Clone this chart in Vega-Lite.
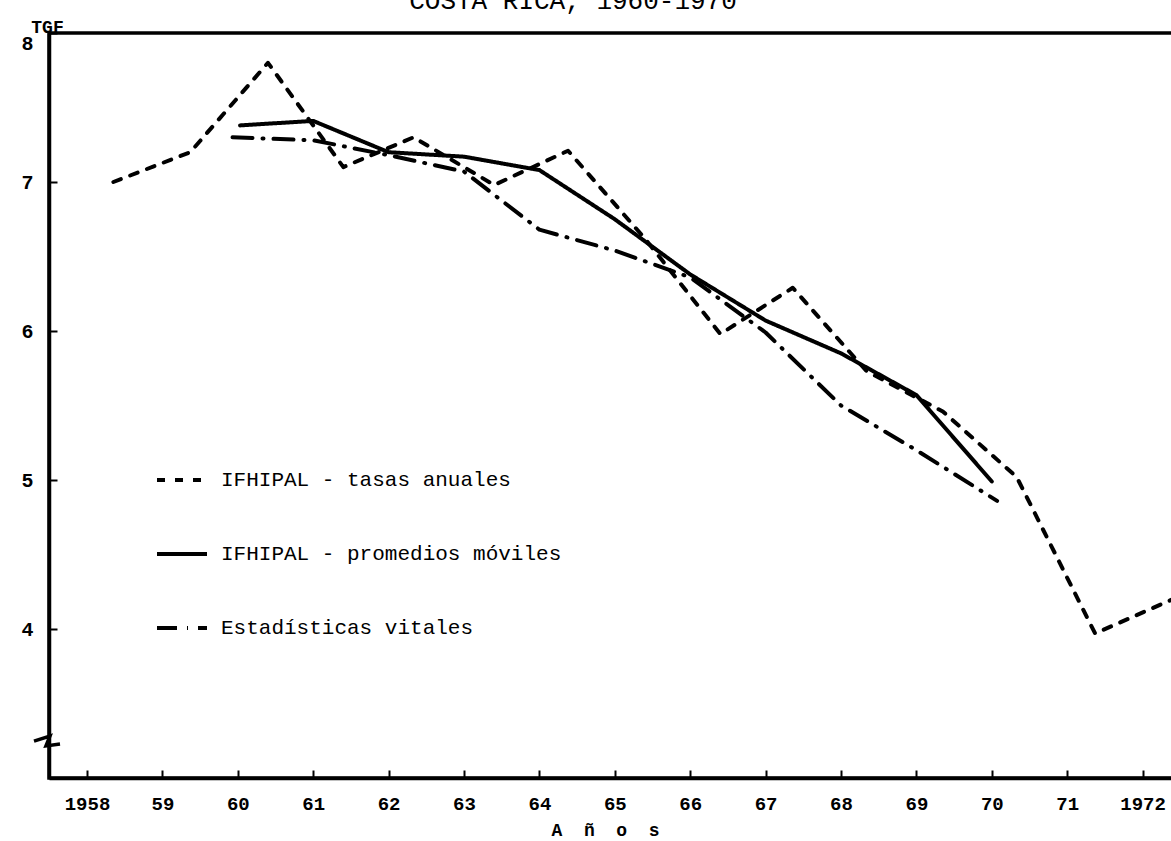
{
  "$schema": "https://vega.github.io/schema/vega-lite/v6.json",
  "autosize": {"type": "none"},
  "padding": {"left": 49, "top": 33, "right": 0, "bottom": 63},
  "width": 1124,
  "height": 745,
  "background": "white",
  "title": {
    "text": "COSTA RICA, 1960-1970",
    "font": "Liberation Mono",
    "fontSize": 26,
    "fontWeight": "normal",
    "color": "black",
    "anchor": "middle",
    "frame": "group",
    "baseline": "alphabetic",
    "dx": -38,
    "offset": -17
  },
  "config": {
    "view": {"stroke": "black", "strokeWidth": 3.5},
    "font": "Liberation Mono"
  },
  "datasets": {
    "series": [
      {"serie": "IFHIPAL - tasas anuales", "anio": 1958.35, "tgf": 7.0},
      {"serie": "IFHIPAL - tasas anuales", "anio": 1959.37, "tgf": 7.2},
      {"serie": "IFHIPAL - tasas anuales", "anio": 1960.4, "tgf": 7.8},
      {"serie": "IFHIPAL - tasas anuales", "anio": 1961.4, "tgf": 7.1},
      {"serie": "IFHIPAL - tasas anuales", "anio": 1962.33, "tgf": 7.3},
      {"serie": "IFHIPAL - tasas anuales", "anio": 1963.4, "tgf": 6.98},
      {"serie": "IFHIPAL - tasas anuales", "anio": 1964.38, "tgf": 7.21},
      {"serie": "IFHIPAL - tasas anuales", "anio": 1965.4, "tgf": 6.62},
      {"serie": "IFHIPAL - tasas anuales", "anio": 1966.4, "tgf": 5.98},
      {"serie": "IFHIPAL - tasas anuales", "anio": 1967.36, "tgf": 6.29},
      {"serie": "IFHIPAL - tasas anuales", "anio": 1968.34, "tgf": 5.73},
      {"serie": "IFHIPAL - tasas anuales", "anio": 1969.35, "tgf": 5.46},
      {"serie": "IFHIPAL - tasas anuales", "anio": 1970.33, "tgf": 5.02},
      {"serie": "IFHIPAL - tasas anuales", "anio": 1971.37, "tgf": 3.97},
      {"serie": "IFHIPAL - tasas anuales", "anio": 1972.4, "tgf": 4.2},
      {"serie": "IFHIPAL - promedios móviles", "anio": 1960.03, "tgf": 7.38},
      {"serie": "IFHIPAL - promedios móviles", "anio": 1961.0, "tgf": 7.41},
      {"serie": "IFHIPAL - promedios móviles", "anio": 1962.0, "tgf": 7.2},
      {"serie": "IFHIPAL - promedios móviles", "anio": 1963.0, "tgf": 7.17},
      {"serie": "IFHIPAL - promedios móviles", "anio": 1964.0, "tgf": 7.08},
      {"serie": "IFHIPAL - promedios móviles", "anio": 1965.0, "tgf": 6.75},
      {"serie": "IFHIPAL - promedios móviles", "anio": 1966.0, "tgf": 6.38},
      {"serie": "IFHIPAL - promedios móviles", "anio": 1967.0, "tgf": 6.07},
      {"serie": "IFHIPAL - promedios móviles", "anio": 1968.0, "tgf": 5.85},
      {"serie": "IFHIPAL - promedios móviles", "anio": 1969.0, "tgf": 5.57},
      {"serie": "IFHIPAL - promedios móviles", "anio": 1970.0, "tgf": 4.99},
      {"serie": "Estadísticas vitales", "anio": 1959.93, "tgf": 7.3},
      {"serie": "Estadísticas vitales", "anio": 1961.0, "tgf": 7.28},
      {"serie": "Estadísticas vitales", "anio": 1962.0, "tgf": 7.18},
      {"serie": "Estadísticas vitales", "anio": 1963.0, "tgf": 7.07},
      {"serie": "Estadísticas vitales", "anio": 1964.0, "tgf": 6.68},
      {"serie": "Estadísticas vitales", "anio": 1965.0, "tgf": 6.54},
      {"serie": "Estadísticas vitales", "anio": 1966.0, "tgf": 6.36},
      {"serie": "Estadísticas vitales", "anio": 1967.0, "tgf": 5.99},
      {"serie": "Estadísticas vitales", "anio": 1968.0, "tgf": 5.5},
      {"serie": "Estadísticas vitales", "anio": 1969.0, "tgf": 5.2},
      {"serie": "Estadísticas vitales", "anio": 1970.07, "tgf": 4.86}
    ],
    "corte": [
      {"orden": 1, "anio": 1957.297, "tgf": 3.248},
      {"orden": 2, "anio": 1957.509, "tgf": 3.282},
      {"orden": 3, "anio": 1957.456, "tgf": 3.215},
      {"orden": 4, "anio": 1957.642, "tgf": 3.228}
    ]
  },
  "layer": [
    {
      "data": {"name": "series"},
      "mark": {"type": "line", "color": "black", "strokeWidth": 4, "strokeCap": "round", "strokeJoin": "round", "clip": true},
      "encoding": {
        "x": {
          "field": "anio", "type": "quantitative",
          "scale": {"domain": [1957.496, 1972.403], "nice": false, "zero": false},
          "axis": {
            "values": [1958, 1959, 1960, 1961, 1962, 1963, 1964, 1965, 1966, 1967, 1968, 1969, 1970, 1971, 1972],
            "labelExpr": "(datum.value == 1958 || datum.value == 1972) ? '' + datum.value : substring('' + datum.value, 2, 4)",
            "title": "A\u00a0 ñ\u00a0 o\u00a0 s",
            "titleFont": "Liberation Mono",
            "titleFontSize": 18,
            "titleFontWeight": "bold",
            "titleColor": "black",
            "titlePadding": 8,
            "titleX": 556,
            "domainColor": "black",
            "domainWidth": 3.5,
            "tickColor": "black",
            "tickWidth": 2,
            "tickSize": -8,
            "labelFont": "Liberation Mono",
            "labelFontSize": 19,
            "labelFontWeight": "bold",
            "labelColor": "black",
            "labelPadding": 24,
            "grid": false
          }
        },
        "y": {
          "field": "tgf", "type": "quantitative",
          "scale": {"domain": [3, 8], "nice": false, "zero": false},
          "axis": {
            "values": [4, 5, 6, 7, 8],
            "format": "d",
            "title": "TGF",
            "titleAngle": 0,
            "titleFont": "Liberation Mono",
            "titleFontSize": 18,
            "titleFontWeight": "bold",
            "titleColor": "black",
            "titleAlign": "center",
            "titleBaseline": "bottom",
            "titleX": -2,
            "titleY": 3,
            "domainColor": "black",
            "domainWidth": 3.5,
            "tickColor": "black",
            "tickWidth": 2,
            "tickSize": -8,
            "labelFont": "Liberation Mono",
            "labelFontSize": 20,
            "labelFontWeight": "bold",
            "labelColor": "black",
            "labelPadding": 24,
            "labelBaseline": {"condition": {"test": "datum.value == 8", "value": "top"}, "value": "middle"},
            "grid": false
          }
        },
        "strokeDash": {
          "field": "serie", "type": "nominal",
          "scale": {
            "domain": ["IFHIPAL - tasas anuales", "IFHIPAL - promedios móviles", "Estadísticas vitales"],
            "range": [[8, 10], [1, 0], [20, 10, 1, 10]]
          },
          "legend": {
            "title": null,
            "orient": "none",
            "legendX": 106,
            "legendY": 420,
            "padding": 0,
            "symbolType": "stroke",
            "symbolSize": 2500,
            "symbolStrokeWidth": 4,
            "symbolStrokeColor": "black",
            "labelFont": "Liberation Mono",
            "labelFontSize": 21,
            "labelColor": "black",
            "labelOffset": 12,
            "labelLimit": 600,
            "rowPadding": 37
          }
        },
        "detail": {"field": "serie"}
      }
    },
    {
      "data": {"name": "corte"},
      "mark": {"type": "line", "color": "black", "strokeWidth": 3.5, "clip": false},
      "encoding": {
        "x": {"field": "anio", "type": "quantitative"},
        "y": {"field": "tgf", "type": "quantitative"},
        "order": {"field": "orden"}
      }
    }
  ]
}
